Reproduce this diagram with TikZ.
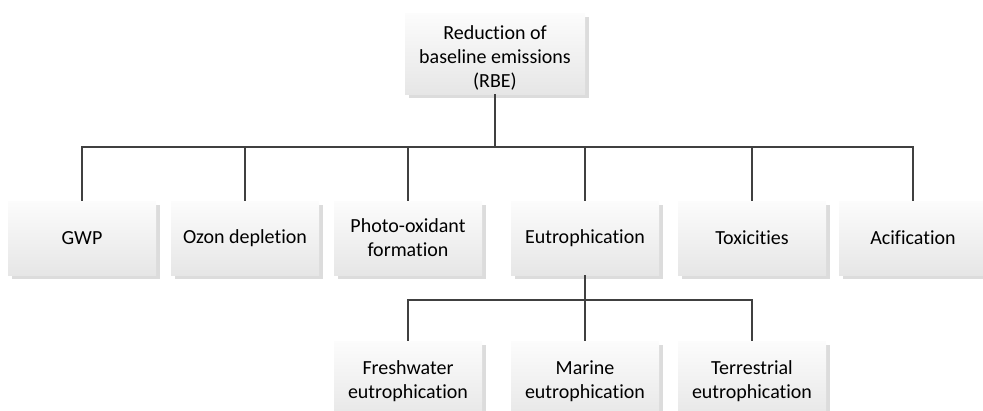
\documentclass[tikz,border=0pt]{standalone}
\usepackage{fontspec}
\setmainfont{Carlito}[Ligatures={NoCommon}]
\usetikzlibrary{shadings}
\definecolor{linegray}{HTML}{404040}
\definecolor{shadowgray}{HTML}{DCDCDC}
\definecolor{boxtop}{HTML}{FCFCFC}
\definecolor{boxbottom}{HTML}{E6E6E6}
\tikzset{
  box/.style={rectangle, minimum width=148pt, minimum height=74pt, inner sep=0pt,
    top color=boxtop, bottom color=boxbottom, draw=none, align=center,
    font=\fontsize{20pt}{24pt}\selectfont,
    preaction={fill=shadowgray, transform canvas={shift={(3.5pt,-3.5pt)}}}},
  boxtext/.style={inner sep=0pt, align=center, font=\fontsize{20pt}{24pt}\selectfont},
  wire/.style={draw=linegray, line width=2.3pt}
}
\begin{document}
\begin{tikzpicture}[x=1pt,y=-1pt]
\useasboundingbox (0,0) rectangle (983,410);
% root box with its caption set slightly low
\node[box, minimum width=180pt, minimum height=81pt] (root) at (495,53.5) {};
\node[boxtext] (roottext) at (495,57.5) {Reduction of\\baseline emissions\\(RBE)};
% impact categories
\node[box] (gwp)  at (82,238) {GWP};
\node[box] (ozon) at (245,238) {Ozon depletion};
\node[box] (pof)  at (408,238) {Photo-oxidant\\formation};
\node[box] (eut)  at (585,238) {Eutrophication};
\node[box] (tox)  at (752,238) {Toxicities};
\node[box] (aci)  at (913,238) {Acification};
% eutrophication subtypes
\node[box, minimum height=80pt] (fw)  at (408,381) {Freshwater\\eutrophication};
\node[box, minimum height=80pt] (mar) at (585,381) {Marine\\eutrophication};
\node[box, minimum height=80pt] (ter) at (752,381) {Terrestrial\\eutrophication};
% tree connectors
\coordinate (bus) at (495,147);
\coordinate (subbus) at (585,300);
\draw[wire] (root.south) -- (bus);
\draw[wire] (gwp.north) |- (bus) -| (aci.north);
\draw[wire] (ozon.north) -- (ozon.north |- bus);
\draw[wire] (pof.north) -- (pof.north |- bus);
\draw[wire] (eut.north) -- (eut.north |- bus);
\draw[wire] (tox.north) -- (tox.north |- bus);
\draw[wire] (eut.south) -- (subbus);
\draw[wire] (fw.north) |- (subbus) -| (ter.north);
\draw[wire] (mar.north) -- (subbus);
\end{tikzpicture}
\end{document}
